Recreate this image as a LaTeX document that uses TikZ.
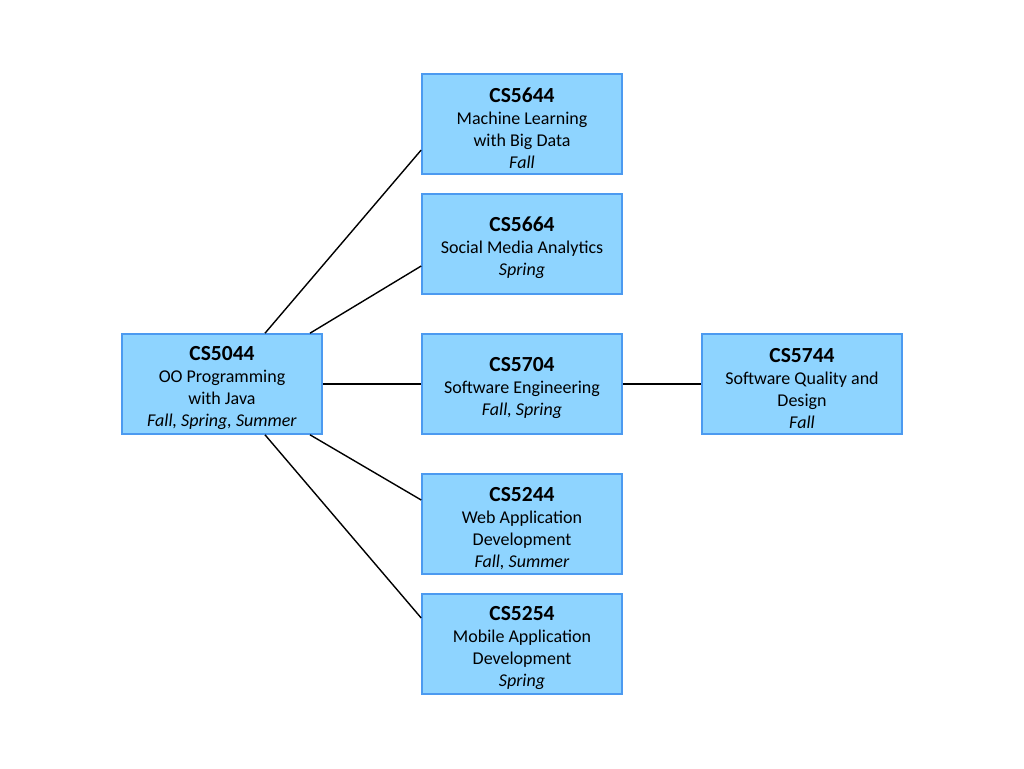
\documentclass[tikz,border=0pt]{standalone}
\usepackage{fontspec}
\setmainfont{Carlito}
\usepackage{xcolor}
\usetikzlibrary{calc,positioning}
\definecolor{boxfill}{HTML}{8ED4FF}
\definecolor{boxline}{HTML}{4C9AF0}
\newcommand{\course}[3]{{\fontsize{21.5}{24}\selectfont\bfseries\rule{0pt}{23pt}#1}\\#2\\\textit{#3}}

\begin{document}
\begin{tikzpicture}[x=1pt,y=-1pt,every node/.style={rectangle,draw=boxline,line width=1.6pt,fill=boxfill,minimum width=200pt,minimum height=100pt,align=center,font=\fontsize{18}{22}\selectfont,inner sep=0pt},link/.style={draw=black,line width=1.4pt}]
\useasboundingbox (0,0) rectangle (1024,768);
\node (cs5044) at (222,384) {\course{CS5044}{OO Programming\\with Java}{Fall, Spring, Summer}};
\node (cs5644) at (522,124) {\course{CS5644}{Machine Learning\\with Big Data}{Fall}};
\node (cs5664) at (522,244) {\course{CS5664}{Social Media Analytics}{Spring}};
\node (cs5704) at (522,384) {\course{CS5704}{Software Engineering}{Fall, Spring}};
\node (cs5744) at (802,384) {\course{CS5744}{Software Quality and\\Design}{Fall}};
\node (cs5244) at (522,524) {\course{CS5244}{Web Application\\Development}{Fall, Summer}};
\node (cs5254) at (522,644) {\course{CS5254}{Mobile Application\\Development}{Spring}};
% links
\draw[link] ([xshift=43pt]cs5044.north) -- ([yshift=-26pt]cs5644.west);
\draw[link] ([xshift=88pt]cs5044.north) -- ([yshift=-22pt]cs5664.west);
\draw[link] (cs5044.east) -- (cs5704.west);
\draw[link] ([xshift=88pt]cs5044.south) -- ([yshift=24pt]cs5244.west);
\draw[link] ([xshift=43pt]cs5044.south) -- ([yshift=26pt]cs5254.west);
\draw[link] (cs5704.east) -- (cs5744.west);
\end{tikzpicture}
\end{document}
